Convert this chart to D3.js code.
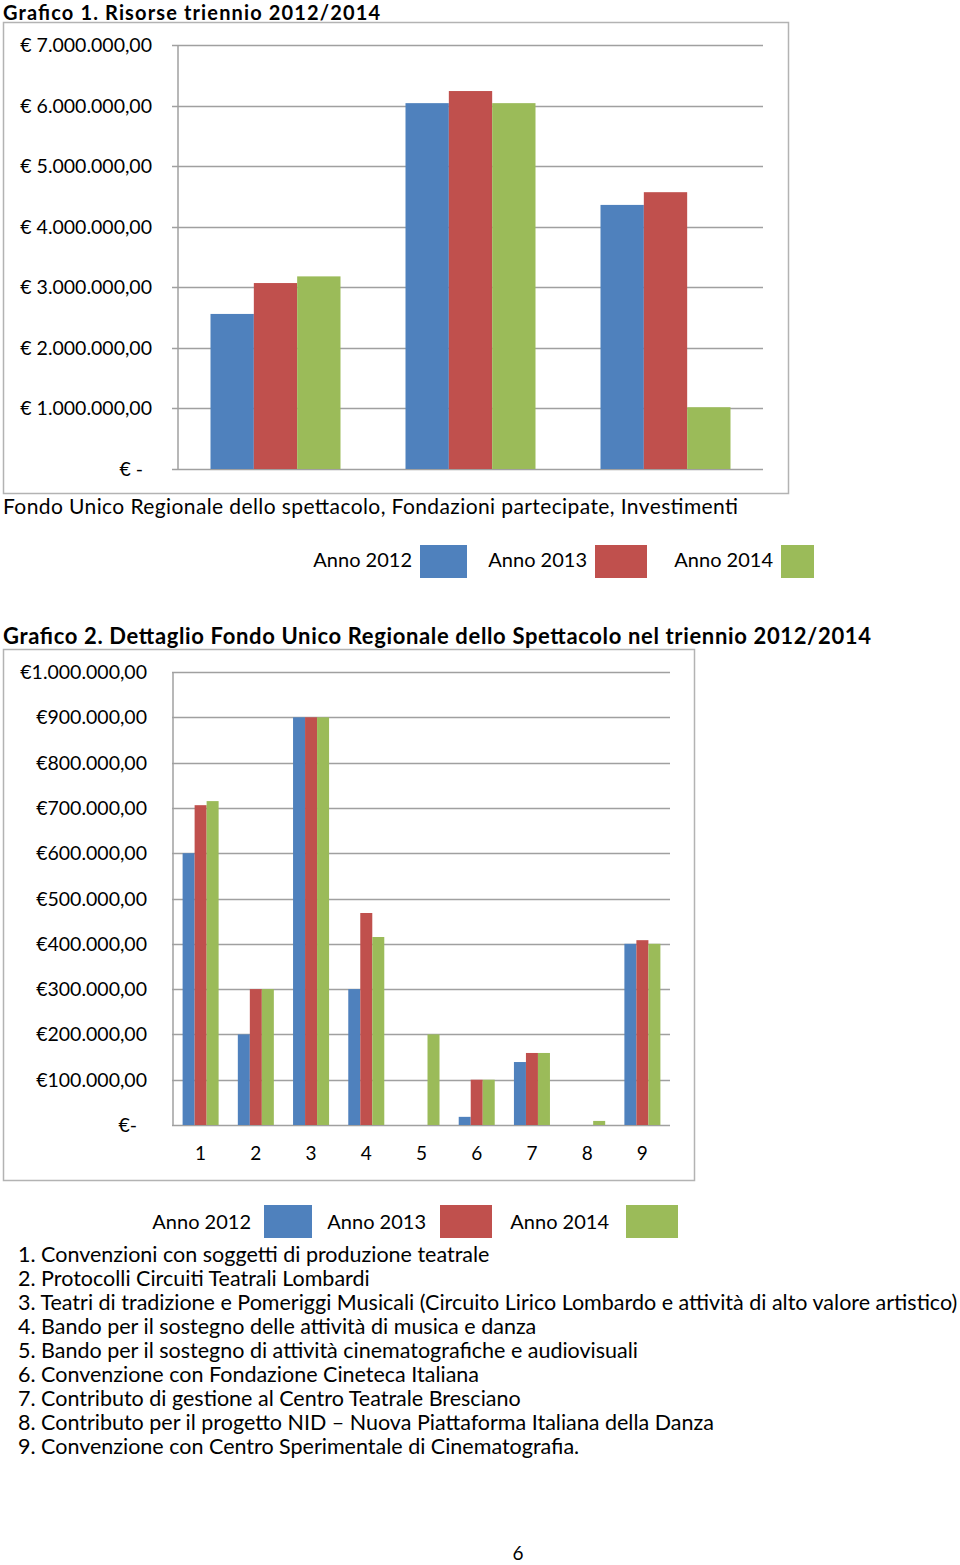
<!DOCTYPE html>
<html>
<head>
<meta charset="utf-8">
<script src="https://cdn.jsdelivr.net/npm/d3@7"></script>
<style>
  body { margin: 0; background: #fff; }
  svg text { font-family: "Lato", "Open Sans", sans-serif; fill: #000; }
</style>
</head>
<body>
<div id="page"></div>
<script>
var years = ["Anno 2012", "Anno 2013", "Anno 2014"];
var colors = ["#4F81BD", "#C0504D", "#9BBB59"];

// grafico 1
var cat1 = ["Fondo Unico Regionale dello spettacolo", "Fondazioni partecipate", "Investimenti"];
var val1_2012 = [2560000, 6040000, 4360000];
var val1_2013 = [3070000, 6240000, 4570000];
var val1_2014 = [3180000, 6040000, 1020000];
var ticks1 = [0, 1e6, 2e6, 3e6, 4e6, 5e6, 6e6, 7e6];

// grafico 2
var cat2 = ["1", "2", "3", "4", "5", "6", "7", "8", "9"];
var val2_2012 = [600000, 200000, 900000, 300000, 0, 18000, 139000, 0, 400000];
var val2_2013 = [706000, 300000, 900000, 468000, 0, 100000, 159000, 0, 408000];
var val2_2014 = [715000, 300000, 900000, 415000, 200000, 100000, 159000, 9000, 400000];
var ticks2 = [0, 1e5, 2e5, 3e5, 4e5, 5e5, 6e5, 7e5, 8e5, 9e5, 1e6];

var notes = [
  "1. Convenzioni con soggetti di produzione teatrale",
  "2. Protocolli Circuiti Teatrali Lombardi",
  "3. Teatri di tradizione e Pomeriggi Musicali (Circuito Lirico Lombardo e attività di alto valore artistico)",
  "4. Bando per il sostegno delle attività di musica e danza",
  "5. Bando per il sostegno di attività cinematografiche e audiovisuali",
  "6. Convenzione con Fondazione Cineteca Italiana",
  "7. Contributo di gestione al Centro Teatrale Bresciano",
  "8. Contributo per il progetto NID – Nuova Piattaforma Italiana della Danza",
  "9. Convenzione con Centro Sperimentale di Cinematografia."
];

var svg = d3.select("#page").append("svg")
    .attr("width", 960)
    .attr("height", 1565);

function euro(v, spaced) {
    if (v === 0) return spaced ? "€ -" : "€-";
    var s = d3.format(",.2f")(v).replace(/,/g, "#").replace(".", ",").replace(/#/g, ".");
    return (spaced ? "€ " : "€") + s;
}

function drawChart(opt) {
    var g = svg.append("g");

    g.append("rect")
        .attr("x", opt.frame[0] + 0.5).attr("y", opt.frame[1] + 0.5)
        .attr("width", opt.frame[2]).attr("height", opt.frame[3])
        .attr("fill", "none").attr("stroke", "#b3b3b3").attr("stroke-width", 1.5);

    var y = d3.scaleLinear().domain(opt.domain).range([opt.bottom, opt.top]);
    var x0 = d3.scaleBand().domain(opt.cats).range([opt.left, opt.right]);
    var x1 = d3.scaleBand().domain(years).range([0, x0.bandwidth()])
        .paddingInner(0).paddingOuter(opt.pad);

    g.selectAll(".grid").data(opt.ticks).enter().append("line")
        .attr("x1", opt.left - opt.tick).attr("x2", opt.right)
        .attr("y1", function (d) { return Math.round(y(d)) + 0.5; })
        .attr("y2", function (d) { return Math.round(y(d)) + 0.5; })
        .attr("stroke", "#a0a0a0").attr("stroke-width", 1.5);

    g.append("line")
        .attr("x1", opt.left).attr("x2", opt.left)
        .attr("y1", opt.top).attr("y2", opt.bottom)
        .attr("stroke", "#a0a0a0").attr("stroke-width", 1.5);

    g.selectAll(".ylab").data(opt.ticks).enter().append("text")
        .attr("x", function (d) { return d === 0 ? opt.zeroX : opt.labelX; })
        .attr("y", function (d) { return y(d) + 7; })
        .attr("text-anchor", "end")
        .style("font-size", "19.5px")
        .text(function (d) { return euro(d, opt.spaced); });

    opt.series.forEach(function (vals, si) {
        g.selectAll(".bar" + si).data(vals).enter().append("rect")
            .attr("x", function (d, i) { return x0(opt.cats[i]) + x1(years[si]); })
            .attr("y", function (d) { return y(d); })
            .attr("width", x1.bandwidth())
            .attr("height", function (d) { return opt.bottom - y(d); })
            .attr("fill", colors[si]);
    });

    return { x0: x0, y: y };
}

function legend(items) {
    items.forEach(function (it, i) {
        svg.append("text")
            .attr("x", it[0]).attr("y", it[1])
            .attr("text-anchor", "end")
            .style("font-size", "20px")
            .text(years[i]);
        svg.append("rect")
            .attr("x", it[2]).attr("y", it[3])
            .attr("width", it[4]).attr("height", it[5])
            .attr("fill", colors[i]);
    });
}

// ---- Grafico 1
svg.append("text").attr("x", 3).attr("y", 20)
    .style("font-size", "20px").style("font-weight", "bold")
    .attr("textLength", 377)
    .text("Grafico 1. Risorse triennio 2012/2014");

drawChart({
    frame: [3, 22, 785, 471],
    cats: cat1, series: [val1_2012, val1_2013, val1_2014],
    domain: [0, 7e6], ticks: ticks1,
    left: 178, right: 763, top: 45, bottom: 469,
    tick: 6, pad: 0.75, labelX: 152, zeroX: 143, spaced: true
});

svg.append("text").attr("x", 3).attr("y", 514)
    .style("font-size", "21px")
    .attr("textLength", 735)
    .text(cat1.join(", "));

legend([
    [412, 567, 420, 545, 47, 33],
    [587, 567, 595, 545, 52, 33],
    [773, 567, 781, 545, 33, 33]
]);

// ---- Grafico 2
svg.append("text").attr("x", 3).attr("y", 644)
    .style("font-size", "22px").style("font-weight", "bold")
    .attr("textLength", 868)
    .text("Grafico 2. Dettaglio Fondo Unico Regionale dello Spettacolo nel triennio 2012/2014");

var c2 = drawChart({
    frame: [3, 649, 691, 531],
    cats: cat2, series: [val2_2012, val2_2013, val2_2014],
    domain: [0, 1e6], ticks: ticks2,
    left: 173, right: 670, top: 672, bottom: 1125,
    tick: 1, pad: 0.8, labelX: 147, zeroX: 137, spaced: false
});

svg.selectAll(".xlab").data(cat2).enter().append("text")
    .attr("x", function (d) { return c2.x0(d) + c2.x0.bandwidth() / 2; })
    .attr("y", 1160)
    .attr("text-anchor", "middle")
    .style("font-size", "19px")
    .text(function (d) { return d; });

legend([
    [251, 1229, 264, 1205, 48, 33],
    [426, 1229, 440, 1205, 52, 33],
    [609, 1229, 626, 1205, 52, 33]
]);

svg.selectAll(".note").data(notes).enter().append("text")
    .attr("x", 18)
    .attr("y", function (d, i) { return 1262 + i * 24; })
    .style("font-size", "21.5px")
    .text(function (d) { return d; });

svg.append("text").attr("x", 518).attr("y", 1560)
    .attr("text-anchor", "middle")
    .style("font-size", "19px")
    .text("6");
</script>
</body>
</html>
